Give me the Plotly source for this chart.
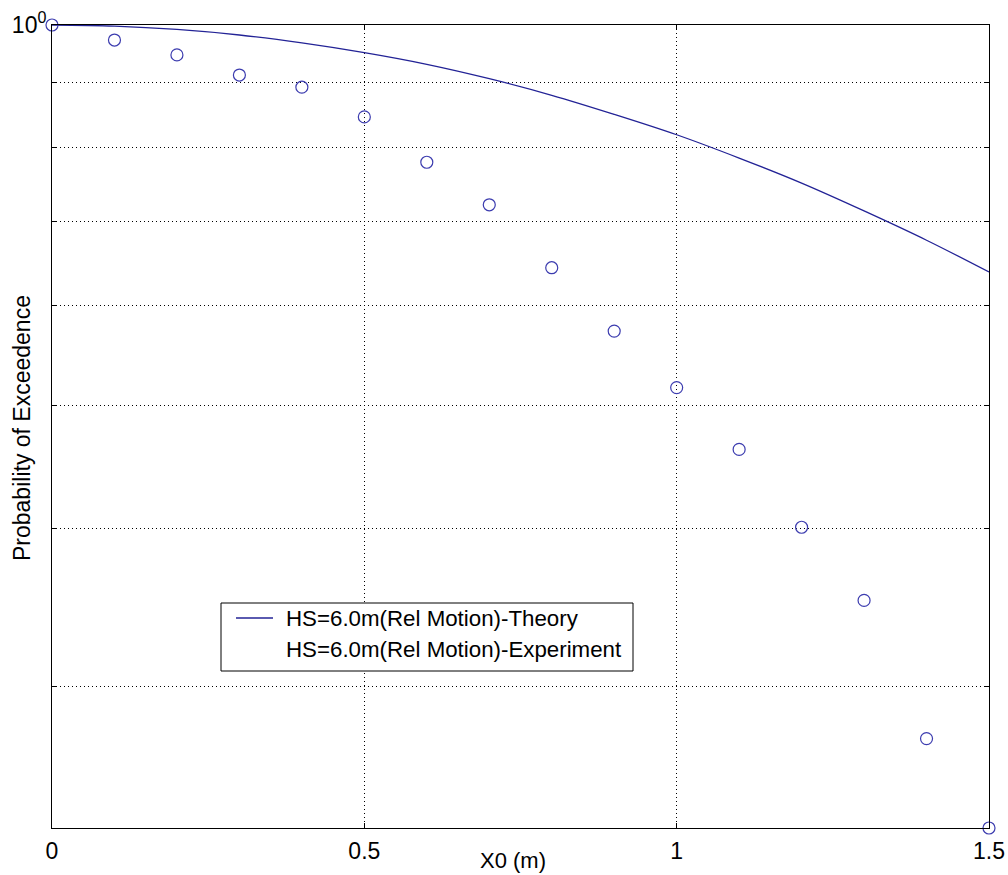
import math
import plotly.graph_objects as go

# Wave height offset X0 (m)
x0 = [0.0, 0.1, 0.2, 0.3, 0.4, 0.5, 0.6, 0.7, 0.8, 0.9, 1.0, 1.1, 1.2, 1.3, 1.4, 1.5]

# Probability of exceedence, theory curve
p_theory = [1.000, 0.998, 0.992, 0.982, 0.968, 0.951, 0.931, 0.907,
            0.880, 0.850, 0.819, 0.785, 0.750, 0.713, 0.676, 0.638]

# Probability of exceedence, experiment
p_experiment = [1.000, 0.973, 0.947, 0.913, 0.893, 0.846, 0.779, 0.721,
                0.643, 0.573, 0.517, 0.462, 0.401, 0.351, 0.273, 0.232]

x_tickvals = [0, 0.5, 1, 1.5]
x_ticktext = ["0", "0.5", "1", "1.5"]
y_tickvals = [1.0]
y_ticktext = ["10<sup>0</sup>"]
y_minor_tickvals = [0.3, 0.4, 0.5, 0.6, 0.7, 0.8, 0.9]

legend_labels = ["HS=6.0m(Rel Motion)-Theory", "HS=6.0m(Rel Motion)-Experiment"]

W, H = 1008, 875
L, R, T, B = 52, 989, 25, 828
FONT = "Liberation Sans, Arial, sans-serif"
FS = 23
LEGEND_FS = 22.3
LINE_COLOR = "rgb(35,35,150)"
MARKER_COLOR = "rgb(60,60,175)"
GRID_DASH = "1px,3px"


def px(xp):
    return (xp - L) / (R - L)


def py(yp):
    return (B - yp) / (B - T)


fig = go.Figure()

fig.add_trace(go.Scatter(
    x=x0, y=p_theory, mode="lines", line=dict(color=LINE_COLOR, width=1.3, shape="spline"),
    name=legend_labels[0], showlegend=False,
))
fig.add_trace(go.Scatter(
    x=x0, y=p_experiment, mode="markers",
    marker=dict(symbol="circle-open", size=12, color=MARKER_COLOR, line=dict(width=1.2, color=MARKER_COLOR)),
    name=legend_labels[1], showlegend=False, cliponaxis=False,
))

y_low = min(p_experiment)

fig.update_xaxes(
    range=[0, 1.5], tickmode="array", tickvals=x_tickvals, ticktext=x_ticktext,
    showline=True, linecolor="black", linewidth=1, mirror="ticks",
    ticks="inside", ticklen=5, tickcolor="black",
    showgrid=True, gridcolor="black", griddash=GRID_DASH, gridwidth=1,
    zeroline=False, tickfont=dict(family=FONT, size=FS, color="black"),
    ticklabelstandoff=2, automargin=False,
)
fig.update_yaxes(
    type="log", range=[math.log10(y_low), 0], tickmode="array",
    tickvals=y_tickvals, ticktext=y_ticktext,
    showline=True, linecolor="black", linewidth=1, mirror="ticks",
    ticks="inside", ticklen=5, tickcolor="black",
    showgrid=False, zeroline=False,
    tickfont=dict(family=FONT, size=FS, color="black"),
    minor=dict(tickmode="array", tickvals=y_minor_tickvals, ticks="inside", ticklen=5,
               tickcolor="black", showgrid=True, gridcolor="black",
               griddash=GRID_DASH, gridwidth=1),
    automargin=False,
)

# Legend box drawn in paper coordinates
shapes = [
    dict(type="rect", xref="paper", yref="paper",
         x0=px(221), x1=px(633), y0=py(671), y1=py(603),
         line=dict(color="black", width=1), fillcolor="white", layer="above"),
    dict(type="line", xref="paper", yref="paper",
         x0=px(236), x1=px(273), y0=py(618), y1=py(618),
         line=dict(color=LINE_COLOR, width=1.3), layer="above"),
]

annotations = [
    dict(text=legend_labels[0], xref="paper", yref="paper", x=px(284), y=py(618),
         xanchor="left", yanchor="middle", showarrow=False,
         font=dict(family=FONT, size=LEGEND_FS, color="black")),
    dict(text=legend_labels[1], xref="paper", yref="paper", x=px(284), y=py(649),
         xanchor="left", yanchor="middle", showarrow=False,
         font=dict(family=FONT, size=LEGEND_FS, color="black")),
    dict(text="X0 (m)", xref="paper", yref="paper", x=px(513), y=py(860),
         xanchor="center", yanchor="middle", showarrow=False,
         font=dict(family=FONT, size=FS - 1, color="black")),
    dict(text="Probability of Exceedence", xref="paper", yref="paper", x=px(22), y=py(428),
         xanchor="center", yanchor="middle", showarrow=False, textangle=-90,
         font=dict(family=FONT, size=23, color="black")),
]

fig.update_layout(
    width=W, height=H, autosize=False,
    margin=dict(l=L, r=W - R, t=T, b=H - B),
    paper_bgcolor="white", plot_bgcolor="white",
    shapes=shapes, annotations=annotations, showlegend=False,
)

fig.write_html("out.html")
